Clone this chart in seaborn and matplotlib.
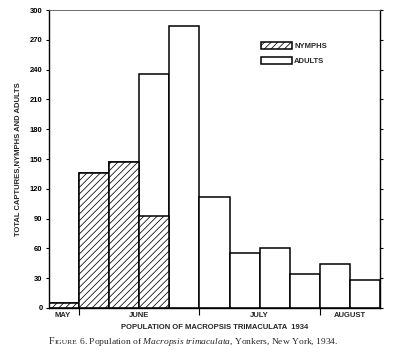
import matplotlib
matplotlib.use("Agg")
import matplotlib.pyplot as plt
import seaborn as sns
import pandas as pd
import numpy as np

weeks = list(range(1, 12))
nymphs = [5, 136, 147, 93, 0, 0, 0, 0, 0, 0, 0]
adults = [0, 0, 0, 143, 284, 112, 55, 60, 34, 44, 28]
month_labels = ["MAY", "JUNE", "JULY", "AUGUST"]
month_label_pos = [0.45, 3.0, 7.0, 10.0]
month_tick_pos = [1, 5, 9]
yticks = list(range(0, 301, 30))

totals = [n + a for n, a in zip(nymphs, adults)]
df = pd.DataFrame({"week": weeks, "nymphs": nymphs, "total": totals})

sns.set_theme(style="white")
plt.rcParams["font.family"] = ["Liberation Sans", "DejaVu Sans"]
plt.rcParams["hatch.linewidth"] = 0.55

fig = plt.figure(figsize=(4.0, 3.53), dpi=100)
ax = fig.add_axes([0.1225, 0.1275, 0.8275, 0.844])

sns.barplot(data=df, x="week", y="total", color="white", edgecolor="black",
            linewidth=1.1, width=1.0, ax=ax, saturation=1)
cont_total = ax.containers[0]
sns.barplot(data=df, x="week", y="nymphs", color="white", edgecolor="black",
            linewidth=1.1, width=1.0, ax=ax, saturation=1)
cont_nym = ax.containers[1]
for p in cont_nym.patches:
    p.set_hatch("/////")
for p, n in zip(cont_nym.patches, nymphs):
    if n == 0:
        p.set_visible(False)

ax.set_xlim(-0.5, 10.5)
ax.set_ylim(0, 300)
ax.set_yticks(yticks)
ax.set_yticklabels([str(v) for v in yticks], fontsize=5.5, fontweight="bold")
ax.tick_params(axis="y", which="major", left=True, right=True, direction="out",
               length=2.5, width=0.8, pad=2, colors="black")
ax.tick_params(axis="y", right=True, direction="in")
ax.tick_params(axis="y", left=True, direction="out")

ax.set_xticks([p - 0.5 for p in month_label_pos])
ax.set_xticklabels(month_labels, fontsize=5.5, fontweight="bold")
ax.tick_params(axis="x", which="major", length=0, pad=3)
ax.set_xticks([p - 0.5 for p in month_tick_pos], minor=True)
ax.tick_params(axis="x", which="minor", bottom=True, direction="out",
               length=5, width=0.8, color="black")

for s in ax.spines.values():
    s.set_color("black")
    s.set_linewidth(1.0)
ax.spines["top"].set_linewidth(0.6)
ax.spines["top"].set_color("#555555")

ax.set_xlabel("POPULATION OF MACROPSIS TRIMACULATA  1934", fontsize=5.5,
              fontweight="bold", labelpad=3)
ax.set_ylabel("TOTAL CAPTURES,NYMPHS AND ADULTS", fontsize=5.5,
              fontweight="bold", labelpad=6)

ax.legend(handles=[cont_nym.patches[0], cont_total.patches[5]],
          labels=["NYMPHS", "ADULTS"], frameon=False, loc="upper left",
          bbox_to_anchor=(0.63, 0.905), borderpad=0, handlelength=4.0,
          handleheight=1.0, handletextpad=0.3, labelspacing=0.9,
          prop={"weight": "bold", "size": 5.5})

plt.rcParams["mathtext.fontset"] = "custom"
plt.rcParams["mathtext.it"] = "Liberation Serif:italic"
plt.rcParams["mathtext.rm"] = "Liberation Serif"

renderer = fig.canvas.get_renderer()
y_cap = 1 - 344 / 353
pieces = [("F", 7.0), ("IGURE", 5.4),
          (r" 6. Population of $\mathit{Macropsis\ trimaculata}$, Yonkers, New York, 1934.", 6.8)]
x_px = 49
for txt, fs in pieces:
    t = fig.text(x_px / 400, y_cap, txt, fontsize=fs, family="Liberation Serif",
                 va="baseline", ha="left")
    bb = t.get_window_extent(renderer)
    x_px += bb.width

fig.savefig("out.png", dpi=100)
